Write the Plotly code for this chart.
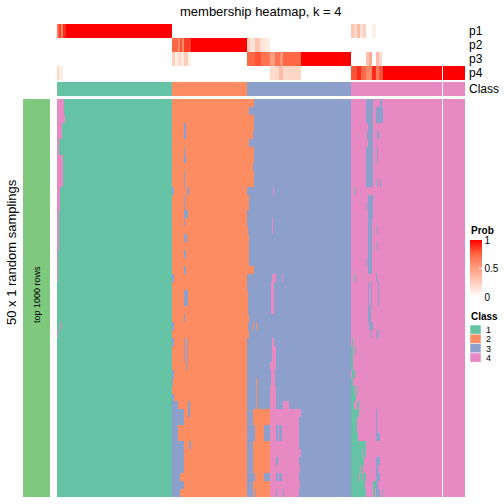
import numpy as np
import plotly.graph_objects as go

# ---------------- data ----------------
N_ROWS = 50                      # 50 x 1 random samplings
slice1_class_runs = [(1, 115), (2, 75), (3, 104), (4, 91)]
slice2_class_runs = [(4, 22)]
class_names = ["1", "2", "3", "4"]
class_colors = ["#66C2A5", "#FC8D62", "#8DA0CB", "#E78AC3"]
prob_rows = ["p1", "p2", "p3", "p4"]

# class-2 calls spilling into the first class-3 samples, per sampling row
orange_spill = [7, 2, 7, 7, 6, 2, 7, 7, 6, 7, 7, 0, 2, 2, 0, 0, 1, 2, 2, 2,
                2, 7, 0, 0, 1, 1, 1, 2, 1, 2, 0, 0, 0, 0, 0, 0, 0, 0, 0, 0,
                0, 0, 0, 0, 0, 0, 0, 0, 0, 0]

# (row_from, row_to, sample_from, sample_to, class) deviations from consensus
deviations = [
    # class-1 samples called 4
    (0, 1, 0, 7, 4), (2, 2, 0, 8, 4), (3, 4, 0, 5, 4), (5, 6, 0, 2, 4), (7, 10, 0, 6, 4),
    (11, 13, 0, 3, 4), (14, 18, 0, 2, 4), (19, 22, 0, 1, 4), (28, 28, 3, 4, 4), (29, 29, 0, 1, 4),
    # class-2 samples called 3
    (3, 4, 127, 129, 3), (6, 6, 127, 128, 3), (7, 7, 127, 129, 3), (9, 10, 127, 128, 3),
    (11, 11, 115, 117, 3), (11, 11, 130, 132, 3), (12, 12, 128, 129, 3), (13, 13, 127, 128, 3),
    (14, 14, 127, 131, 3), (15, 15, 127, 128, 3), (17, 17, 127, 129, 3), (17, 17, 130, 131, 3),
    (19, 19, 127, 129, 3), (21, 21, 127, 129, 3), (22, 22, 115, 117, 3), (24, 25, 127, 131, 3),
    (27, 27, 127, 128, 3), (28, 28, 115, 117, 3), (30, 30, 115, 117, 3), (30, 32, 127, 128, 3),
    (30, 32, 130, 131, 3), (33, 33, 129, 130, 3), (34, 34, 115, 117, 3), (35, 35, 115, 116, 3),
    (37, 37, 115, 117, 3), (38, 38, 115, 121, 3), (38, 39, 131, 133, 3), (39, 40, 115, 127, 3),
    (41, 42, 115, 121, 3), (43, 46, 115, 127, 3), (43, 43, 132, 134, 3), (47, 47, 115, 123, 3),
    (48, 48, 115, 127, 3), (49, 49, 115, 123, 3),
    # class-3 samples called 4 / 2
    (11, 11, 216, 217, 4), (15, 16, 215, 216, 4), (22, 22, 215, 219, 4), (22, 22, 225, 226, 4),
    (23, 26, 214, 217, 4), (30, 30, 215, 217, 4), (31, 32, 215, 219, 4), (33, 33, 213, 219, 4),
    (34, 35, 214, 218, 4), (36, 38, 213, 219, 4), (38, 38, 226, 232, 4),
    (28, 28, 196, 197, 2), (28, 28, 199, 200, 2), (35, 38, 199, 200, 2),
    (39, 49, 196, 213, 2), (39, 39, 213, 244, 4), (40, 43, 213, 242, 4), (44, 44, 213, 244, 4),
    (45, 45, 213, 242, 4), (46, 46, 213, 243, 4), (47, 47, 213, 242, 4), (48, 48, 213, 243, 4),
    (49, 49, 213, 242, 4),
    (41, 42, 196, 198, 3), (47, 47, 196, 198, 3), (41, 42, 207, 213, 3), (47, 47, 207, 213, 3),
    (41, 42, 219, 221, 3), (41, 42, 222, 225, 3), (45, 45, 219, 221, 3), (47, 47, 219, 221, 3),
    (47, 47, 222, 225, 3), (49, 49, 198, 199, 3), (49, 49, 219, 220, 3), (49, 49, 226, 227, 3),
    # class-4 samples called 3 / 1
    (0, 2, 309, 316, 3), (0, 0, 323, 325, 3), (1, 2, 319, 326, 3), (3, 5, 311, 316, 3),
    (4, 4, 310, 311, 3), (4, 4, 320, 322, 3), (6, 10, 309, 316, 3), (6, 7, 320, 321, 3),
    (10, 10, 320, 321, 3), (10, 10, 323, 324, 3), (11, 11, 298, 299, 1), (12, 14, 311, 316, 3),
    (13, 13, 309, 310, 3), (15, 21, 311, 315, 3), (16, 16, 320, 321, 3), (18, 18, 320, 321, 3),
    (20, 20, 309, 310, 3), (22, 22, 298, 299, 1), (22, 22, 319, 320, 3), (23, 25, 311, 312, 3),
    (23, 25, 314, 315, 3), (23, 25, 321, 322, 3), (26, 27, 311, 314, 3), (28, 28, 312, 316, 3),
    (29, 29, 314, 315, 3), (29, 29, 319, 320, 3), (29, 29, 321, 322, 3),
    (30, 30, 295, 296, 1), (31, 31, 294, 296, 1), (31, 31, 298, 299, 1), (32, 33, 294, 296, 1),
    (34, 34, 295, 298, 1), (35, 35, 294, 296, 1), (36, 36, 294, 298, 1), (36, 36, 300, 301, 1),
    (37, 37, 294, 299, 1), (38, 38, 294, 297, 1), (38, 38, 300, 302, 1), (39, 39, 294, 302, 1),
    (39, 41, 319, 320, 3), (40, 41, 294, 300, 1), (42, 42, 294, 301, 1), (42, 42, 319, 323, 3),
    (43, 43, 294, 309, 1), (44, 44, 294, 305, 1), (44, 44, 306, 309, 1), (45, 45, 294, 307, 1),
    (45, 45, 319, 323, 3), (46, 46, 294, 303, 1), (46, 46, 304, 306, 1), (46, 46, 319, 321, 3),
    (47, 47, 294, 302, 1), (47, 47, 303, 305, 1), (47, 47, 306, 309, 1), (47, 47, 319, 323, 3),
    (48, 48, 294, 308, 1), (48, 48, 316, 319, 1), (48, 48, 319, 321, 3), (49, 49, 294, 309, 1),
    (49, 49, 316, 318, 1), (49, 49, 319, 323, 3), (49, 49, 325, 326, 3),
]

# membership probabilities: (sample_from, sample_to, prob)
p1_segments = [(0, 2, 0.7), (2, 4, 0.85), (4, 6, 0.6), (6, 9, 0.9), (9, 115, 1.0),
               (294, 297, 0.3), (297, 300, 0.2), (300, 303, 0.35), (303, 306, 0.15),
               (306, 309, 0.25), (315, 319, 0.08)]
p2_segments = [(115, 121, 0.75), (121, 123, 0.6), (123, 125, 0.8), (125, 127, 0.6),
               (127, 134, 0.85), (134, 190, 1.0), (190, 193, 0.25), (193, 198, 0.15),
               (198, 203, 0.3), (203, 208, 0.15), (208, 213, 0.1)]
p3_segments = [(115, 118, 0.25), (118, 121, 0.1), (121, 124, 0.2), (124, 127, 0.12),
               (127, 131, 0.25), (131, 134, 0.08), (190, 198, 0.75), (198, 204, 0.8),
               (204, 213, 0.7), (213, 218, 0.5), (218, 223, 0.7), (223, 226, 0.55),
               (226, 244, 0.75), (244, 294, 1.0), (309, 312, 0.3), (312, 315, 0.45),
               (319, 322, 0.35), (322, 325, 0.2)]
p4_segments = [(0, 2, 0.2), (2, 6, 0.1), (213, 222, 0.2), (222, 226, 0.35), (226, 230, 0.2),
               (230, 244, 0.22), (294, 300, 0.8), (300, 304, 0.9), (304, 309, 0.75),
               (309, 315, 0.6), (315, 319, 0.9), (319, 322, 0.65), (322, 326, 0.8),
               (326, 408, 1.0)]

# ---------------- build matrices ----------------
cons = []
for k, n in slice1_class_runs:
    cons += [k] * n
gap_index = len(cons)
cons += [np.nan]
for k, n in slice2_class_runs:
    cons += [k] * n
cons = np.array(cons, dtype=float)
n_cols = len(cons)
xs = list(range(n_cols))

M = np.tile(cons, (N_ROWS, 1))
first3 = sum(n for _, n in slice1_class_runs[:2])
for r, ext in enumerate(orange_spill):
    M[r, first3:first3 + ext] = 2
for r0, r1, c0, c1, k in deviations:
    M[r0:r1 + 1, c0:c1] = k
M[:, gap_index] = np.nan

P = np.zeros((4, n_cols))
for i, segs in enumerate([p1_segments, p2_segments, p3_segments, p4_segments]):
    for c0, c1, v in segs:
        P[i, c0:c1] = v
P[:, gap_index] = np.nan

def to_list(a):
    return [[None if np.isnan(v) else float(v) for v in row] for row in a]

cls_scale = []
for i, col in enumerate(class_colors):
    cls_scale += [[i / 4, col], [(i + 1) / 4, col]]

prob_scale = [[0, "#FFFFFF"], [0.25, "rgb(255,207,190)"], [0.5, "rgb(255,158,129)"],
              [0.75, "rgb(255,104,70)"], [1, "#FF0000"]]

W = H = 504.0
def fx(px): return px / W
def fy(py): return 1 - py / H

fig = go.Figure()
fig.add_trace(go.Heatmap(z=to_list(M), x=xs, y=list(range(N_ROWS)), colorscale=cls_scale,
                         zmin=0.5, zmax=4.5, showscale=False, hoverinfo="skip",
                         xaxis="x", yaxis="y"))
fig.add_trace(go.Heatmap(z=to_list(cons[None, :]), x=xs, y=[0], colorscale=cls_scale,
                         zmin=0.5, zmax=4.5, showscale=False, hoverinfo="skip",
                         xaxis="x", yaxis="y2"))
fig.add_trace(go.Heatmap(z=to_list(P), x=xs, y=[0, 1, 2, 3], colorscale=prob_scale,
                         zmin=0, zmax=1, hoverinfo="skip", xaxis="x", yaxis="y3",
                         colorbar=dict(x=fx(470), xanchor="left", y=fy(240), yanchor="top",
                                       lenmode="pixels", len=57, thicknessmode="pixels",
                                       thickness=12, outlinewidth=0, xpad=0, ypad=0,
                                       tickvals=[0, 0.5, 1], ticktext=["0", "0.5", "1"],
                                       ticks="inside", ticklen=3, tickcolor="white",
                                       tickfont=dict(size=10, color="black",
                                                     family="Liberation Sans"))))
fig.add_trace(go.Heatmap(z=[[1]] * N_ROWS, x=[0], y=list(range(N_ROWS)),
                         colorscale=[[0, "#7FC97F"], [1, "#7FC97F"]], showscale=False,
                         hoverinfo="skip", xaxis="x2", yaxis="y4"))

ax = dict(visible=False, showgrid=False, zeroline=False, fixedrange=True)
fig.update_layout(
    width=504, height=504, margin=dict(l=0, r=0, t=0, b=0),
    paper_bgcolor="white", plot_bgcolor="white", showlegend=False,
    xaxis=dict(domain=[fx(57), fx(465)], range=[-0.5, n_cols - 0.5], **ax),
    yaxis=dict(domain=[fy(497), fy(99)], range=[N_ROWS - 0.5, -0.5], anchor="x", **ax),
    yaxis2=dict(domain=[fy(96), fy(82)], range=[0.5, -0.5], anchor="x", **ax),
    yaxis3=dict(domain=[fy(80), fy(24)], range=[3.5, -0.5], anchor="x", **ax),
    xaxis2=dict(domain=[fx(23), fx(50)], range=[-0.5, 0.5], anchor="y4", **ax),
    yaxis4=dict(domain=[fy(497), fy(99)], range=[N_ROWS - 0.5, -0.5], anchor="x2", **ax),
    font=dict(family="Liberation Sans", color="black"),
)

ann = []
ann.append(dict(text="membership heatmap, k = 4", x=fx(261), y=fy(11), xref="paper",
                yref="paper", showarrow=False, font=dict(size=13), xanchor="center",
                yanchor="middle"))
for lab, yc in zip(prob_rows + ["Class"], [31, 45, 59, 73, 89]):
    ann.append(dict(text=lab, x=fx(467), y=fy(yc), xref="paper", yref="paper",
                    showarrow=False, font=dict(size=12), xanchor="left", yanchor="middle"))
ann.append(dict(text="50 x 1 random samplings", x=fx(11), y=0.5, xref="paper", yref="paper",
                showarrow=False, font=dict(size=13), textangle=-90, xanchor="center",
                yanchor="middle"))
ann.append(dict(text="top 1000 rows", x=fx(37), y=fy(295), xref="paper", yref="paper",
                showarrow=False, font=dict(size=9), textangle=-90, xanchor="center",
                yanchor="middle"))
ann.append(dict(text="<b>Prob</b>", x=fx(469), y=fy(231), xref="paper", yref="paper",
                showarrow=False, font=dict(size=10), xanchor="left", yanchor="middle"))
ann.append(dict(text="<b>Class</b>", x=fx(469), y=fy(316), xref="paper", yref="paper",
                showarrow=False, font=dict(size=10), xanchor="left", yanchor="middle"))
shapes = []
for i, (nm, col) in enumerate(zip(class_names, class_colors)):
    top = 325 + i * 9.3
    shapes.append(dict(type="rect", xref="paper", yref="paper", x0=fx(470), x1=fx(481),
                       y0=fy(top + 9.3), y1=fy(top), fillcolor=col,
                       line=dict(width=0.5, color="white")))
    ann.append(dict(text=nm, x=fx(484), y=fy(top + 4.6), xref="paper", yref="paper",
                    showarrow=False, font=dict(size=9), xanchor="left", yanchor="middle",
                    height=9))
fig.update_layout(annotations=ann, shapes=shapes)

fig.write_html("out.html", config={"displayModeBar": False})

# remove the default page margin so the 504x504 figure fills the window exactly
with open("out.html", "r", encoding="utf-8") as fh:
    html = fh.read()
html = html.replace("<head>", "<head><style>html,body{margin:0;padding:0;overflow:hidden;}</style>", 1)
with open("out.html", "w", encoding="utf-8") as fh:
    fh.write(html)
